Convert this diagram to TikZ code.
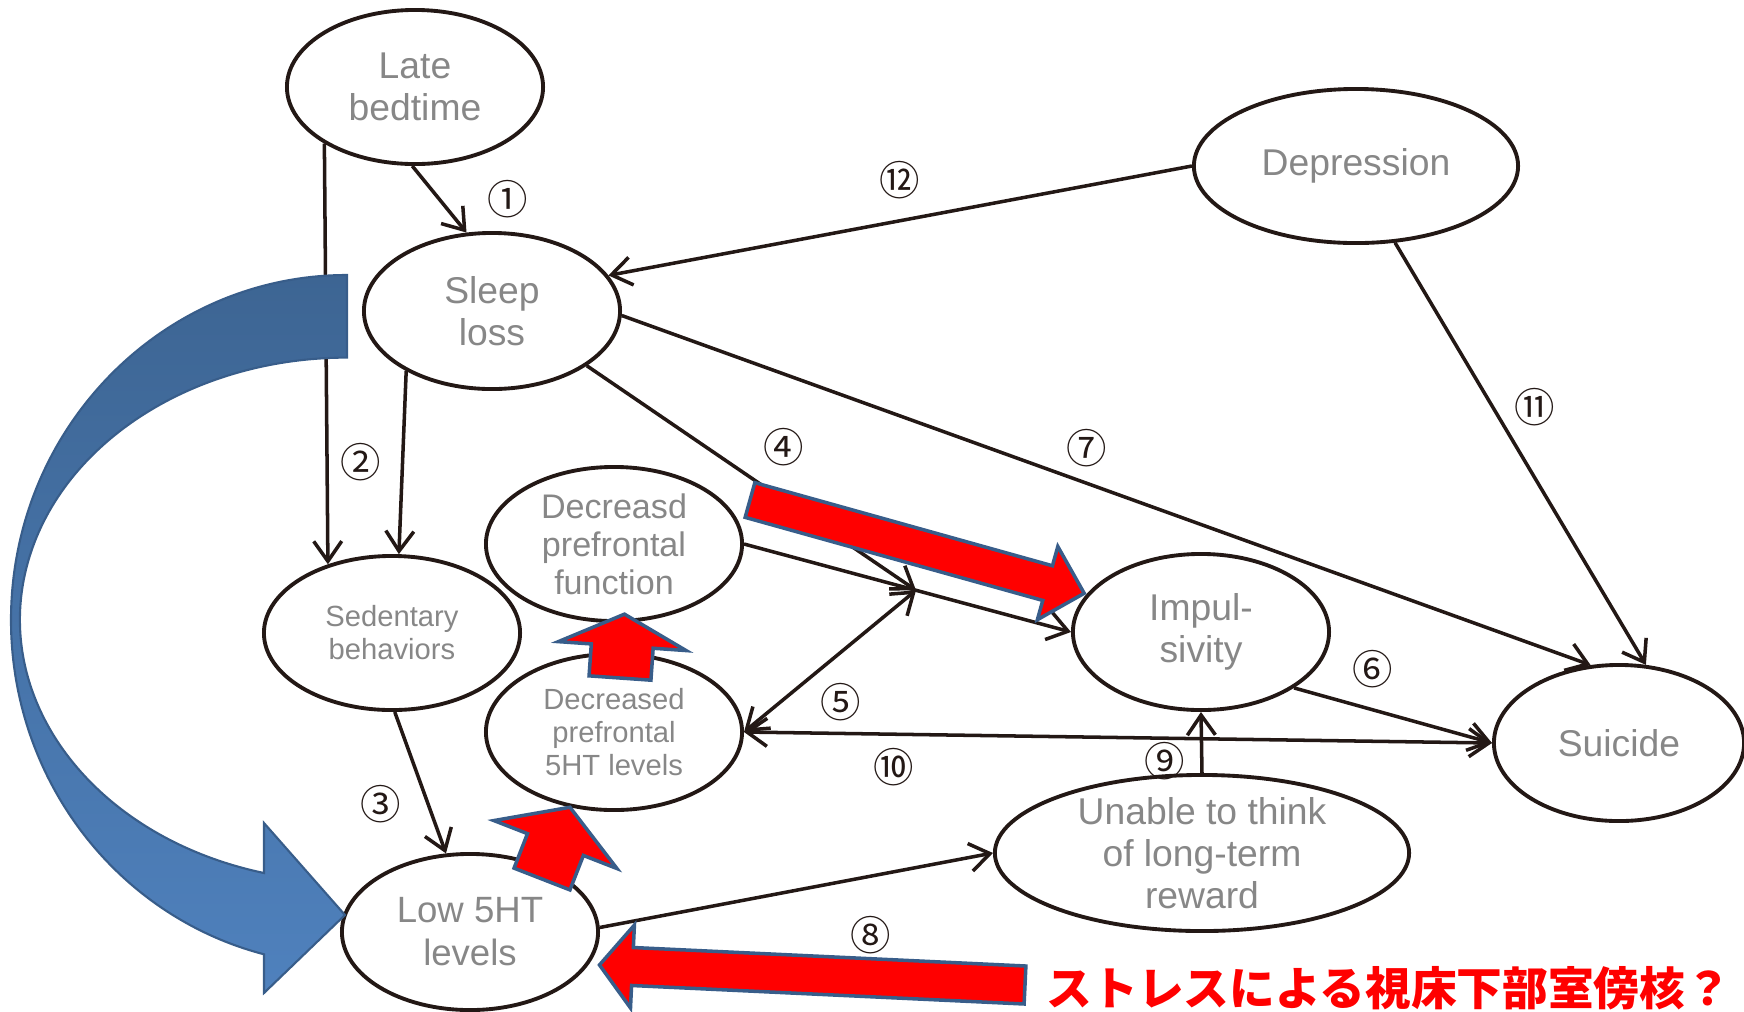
\documentclass[tikz,border=0pt]{standalone}
\usepackage{fontspec}
\setmainfont{Liberation Sans}
\newfontfamily\cjk{Noto Sans CJK JP}
\usetikzlibrary{shapes.geometric, arrows.meta}
\definecolor{ink}{HTML}{231815}
\definecolor{textgray}{RGB}{135,135,135}
\definecolor{outlineblue}{HTML}{385D8A}
\definecolor{bluetop}{HTML}{3D6593}
\definecolor{bluebottom}{HTML}{4F81BD}

\begin{document}
\begin{tikzpicture}[x=0.01cm, y=0.01cm, line width=1pt, draw=ink, >={Straight Barb[length=2mm, width=2.8mm]},
    main/.style = {draw=ink, line width=1.1pt, ellipse, inner sep=-6pt, minimum width=2.56cm, minimum height=1.54cm, align=center, text=textgray, font=\fontsize{10.6}{12}\selectfont},
    smalltext/.style = {font=\fontsize{8.3}{9.4}\selectfont},
    num/.style = {inner sep=0pt, text=ink, font=\cjk\fontsize{11.5}{11.5}\selectfont},
    redarrow/.style = {fill=red, draw=outlineblue, line width=1pt, line join=miter}]
    \useasboundingbox (0,0) rectangle (1744,-1011);

    \node[main] (late) at (415,-87) {Late\\bedtime};
    \node[main, minimum height=1.56cm] (sleep) at (492,-311) {Sleep\\loss};
    \node[main, minimum width=3.24cm] (dep) at (1356,-166) {Depression};
    \node[main, smalltext] (sed) at (392,-633) {Sedentary\\behaviors};
    \node[main, font=\fontsize{9.7}{10.8}\selectfont] (func) at (614,-544) {Decreasd\\prefrontal\\function};
    \node[main, smalltext, minimum height=1.56cm] (pfht) at (614,-732) {Decreased\\prefrontal\\5HT levels};
    \node[main, minimum height=1.56cm] (imp) at (1201,-632) {Impul-\\sivity};
    \node[main, minimum width=2.5cm, minimum height=1.56cm] (suicide) at (1619,-743) {Suicide};
    \node[main, minimum width=4.14cm, minimum height=1.56cm] (unable) at (1202,-853) {Unable to think\\of long-term\\reward};
    \node[main, font=\fontsize{10.4}{12.2}\selectfont, minimum height=1.56cm] (low) at (470,-932) {Low 5HT\\levels};

    \path (func.east) -- (imp.west) coordinate[pos=0.526] (j);

    \draw[->] (late.268) to node[num, midway, right=0.46cm] {①} (sleep.108);
    \draw[->] (late.212) to (sed.133);
    \draw[->] (sleep.215) to node[num, midway, left=0.2cm] {②} (sed.85);
    \draw[->] (sed.272) to node[num, pos=0.65, left=0.25cm] {③} (low.107);
    \draw[->] (func.east) to (imp.west);
    \draw[->] (sleep.330) to node[num, midway, above right=0.1cm] {④} (j);
    \draw[<->] (pfht.east) to node[num, pos=0.4, below right=0.06cm] {⑤} (j);
    \draw[->] (imp.329) to node[num, pos=0.4, above=0.2cm] {⑥} (suicide.west);
    \draw[->] (sleep.358) to node[num, pos=0.48, above=0.15cm] {⑦} (suicide.110);
    \draw[->] (low.2) to node[num, pos=0.69, below=0.38cm] {⑧} (unable.west);
    \draw[->] (unable.north) to node[num, pos=0.2, left=0.15cm] {⑨} (imp.south);
    \draw[<->] (pfht.east) to node[num, pos=0.2, below=0.12cm] {⑩} (suicide.west);
    \draw[->] (dep.297) to node[num, pos=0.39, right=0.2cm] {⑪} (suicide.71);
    \draw[->] (dep.west) to node[num, midway, above=0.2cm] {⑫} (sleep.17);

    % curved blue arrow
    \draw[outlineblue, line width=0.6pt, top color=bluetop, bottom color=bluebottom]
        (347,-275) arc[start angle=90, end angle=255.7, x radius=336, y radius=345]
        -- (264,-993) -- (345,-915) -- (264,-823) -- (264,-873)
        arc[start angle=255.3, end angle=90, x radius=327, y radius=262] -- cycle;

    % red block arrows
    \draw[redarrow, shift={(750,-500)}, rotate=-15.6] (0,18) -- (309,18) -- (309,38) -- (347,0) -- (309,-38) -- (309,-18) -- (0,-18) -- cycle;
    \draw[redarrow, shift={(620,-678)}, rotate=86] (0,-31) -- (32,-31) -- (32,-64) -- (64,0) -- (32,64) -- (32,31) -- (0,31) -- cycle;
    \draw[redarrow, shift={(542,-879)}, rotate=68.7] (0,-30) -- (37,-30) -- (37,-66) -- (77,0) -- (37,66) -- (37,30) -- (0,30) -- cycle;
    \draw[redarrow, shift={(1025,-985)}, rotate=177.3] (0,-19) -- (393,-19) -- (393,-41.5) -- (426,0) -- (393,41.5) -- (393,19) -- (0,19) -- cycle;

    \node[anchor=base west, inner sep=0pt, text=red, font=\cjk\bfseries\fontsize{13}{13}\selectfont] (stress) at (1045,-1005) {ストレスによる視床下部室傍核？};
\end{tikzpicture}
\end{document}
